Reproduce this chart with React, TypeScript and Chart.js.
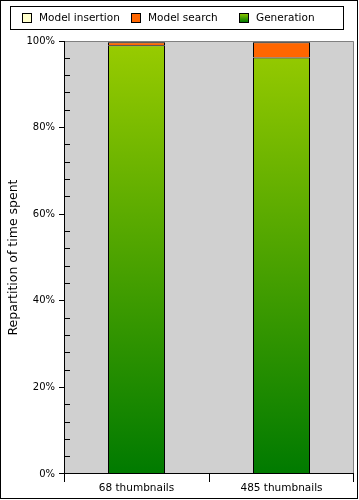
import React, { useEffect, useRef } from 'react';
import { Chart, registerables } from 'chart.js';

Chart.register(...registerables);

const categories = ['68 thumbnails', '485 thumbnails'];
const generation = [99.0, 96.2];
const modelSearch = [0.7, 3.5];
const modelInsertion = [0.3, 0.3];
const yMajorStep = 20;
const yMinorStep = 4;
const yAxisTitle = 'Repartition of time spent';

const FONT = '"DejaVu Sans", Verdana, sans-serif';

function greenGradient(ctx: CanvasRenderingContext2D, top: number, bottom: number) {
  const g = ctx.createLinearGradient(0, top, 0, bottom);
  g.addColorStop(0, '#99cc00');
  g.addColorStop(1, '#007a00');
  return g;
}

export default function App() {
  const ref = useRef<HTMLCanvasElement>(null);

  useEffect(() => {
    document.body.style.margin = '0';
    const canvas = ref.current!;

    const framePlugin = {
      id: 'frame',
      beforeDatasetsDraw(chart: any) {
        const { ctx, chartArea: a } = chart;
        ctx.save();
        ctx.fillStyle = '#d0d0d0';
        ctx.fillRect(a.left, a.top, a.right - a.left, a.bottom - a.top);
        ctx.restore();
      },
      afterDraw(chart: any) {
        const { ctx, chartArea: a, scales } = chart;
        ctx.save();
        ctx.lineWidth = 1;
        // plot frame (top and right, gray)
        ctx.strokeStyle = '#808080';
        ctx.beginPath();
        ctx.moveTo(a.left, a.top + 0.5);
        ctx.lineTo(a.right - 0.5, a.top + 0.5);
        ctx.lineTo(a.right - 0.5, a.bottom);
        ctx.stroke();
        // axes
        ctx.strokeStyle = '#000';
        ctx.beginPath();
        ctx.moveTo(a.left + 0.5, a.top);
        ctx.lineTo(a.left + 0.5, a.bottom);
        ctx.moveTo(a.left, a.bottom - 0.5);
        ctx.lineTo(a.right, a.bottom - 0.5);
        ctx.stroke();
        // y ticks
        const ys = scales.y;
        ctx.beginPath();
        ys.ticks.forEach((t: any) => {
          const p = Math.min(Math.floor(ys.getPixelForValue(t.value)) + 0.5, a.bottom - 0.5);
          if (t.value % yMajorStep === 0) {
            ctx.moveTo(a.left - 5, p);
            ctx.lineTo(a.left + 1, p);
          } else {
            ctx.moveTo(a.left, p);
            ctx.lineTo(a.left + 6, p);
          }
        });
        // x ticks at category boundaries
        const n = categories.length;
        for (let i = 0; i <= n; i++) {
          const x = Math.min(Math.floor(a.left + (i * (a.right - a.left)) / n) + 0.5, a.right - 0.5);
          ctx.moveTo(x, a.bottom);
          ctx.lineTo(x, a.bottom + 8);
        }
        ctx.stroke();

        // legend
        ctx.strokeRect(10.5, 6.5, 333, 23);
        const items = [...chart.data.datasets].reverse();
        const xs = [22, 131, 239];
        ctx.font = `10.5px ${FONT}`;
        ctx.textBaseline = 'middle';
        ctx.textAlign = 'left';
        items.forEach((ds: any, i: number) => {
          const x = xs[i];
          const y = 13;
          if (ds.label === 'Generation') {
            ctx.fillStyle = greenGradient(ctx, y, y + 9);
          } else {
            ctx.fillStyle = ds.legendColor;
          }
          ctx.fillRect(x, y, 9, 9);
          ctx.strokeStyle = '#000';
          ctx.strokeRect(x + 0.5, y + 0.5, 9, 9);
          ctx.fillStyle = '#000';
          ctx.fillText(ds.label, x + 17, y + 5);
        });

        // outer border
        ctx.strokeStyle = '#000';
        ctx.strokeRect(0.5, 0.5, 357, 498);
        ctx.restore();
      },
    };

    const greenBg = (c: any) => {
      const a = c.chart.chartArea;
      if (!a) return '#4ca300';
      return greenGradient(c.chart.ctx, a.top, a.bottom);
    };

    const common = {
      borderColor: '#000',
      borderWidth: 1,
      barPercentage: 0.393,
      categoryPercentage: 1,
      inflateAmount: 0,
    };

    const chart = new Chart(canvas, {
      type: 'bar',
      data: {
        labels: categories,
        datasets: [
          { label: 'Generation', data: generation, backgroundColor: greenBg, borderSkipped: false, ...common } as any,
          { label: 'Model search', data: modelSearch, backgroundColor: '#ff6600', legendColor: '#ff6600', borderSkipped: 'bottom', ...common } as any,
          { label: 'Model insertion', data: modelInsertion, backgroundColor: '#ffffcc', legendColor: '#ffffcc', borderSkipped: 'bottom', ...common } as any,
        ],
      },
      options: {
        responsive: false,
        animation: false,
        devicePixelRatio: 1,
        layout: { padding: { top: 41, right: 5, left: 0, bottom: 0 } },
        plugins: { legend: { display: false }, tooltip: { enabled: false } },
        scales: {
          x: {
            stacked: true,
            grid: { display: false, drawTicks: false },
            border: { display: false },
            ticks: { font: { family: FONT, size: 10.5 }, color: '#000', padding: 8 },
            afterFit: (s: any) => { s.height = 26; },
          },
          y: {
            stacked: true,
            min: 0,
            max: 100,
            grid: { display: false, drawTicks: false },
            border: { display: false },
            ticks: {
              stepSize: yMinorStep,
              autoSkip: false,
              font: { family: FONT, size: 10 },
              color: '#000',
              padding: 9,
              callback: (v: any) => (v % yMajorStep === 0 ? `${v}%` : ''),
            },
            title: {
              display: true,
              text: yAxisTitle,
              color: '#000',
              font: { family: FONT, size: 12.5, weight: 'normal' },
              padding: { top: 6, bottom: 0 },
            },
            afterFit: (s: any) => { s.width = 64; },
          },
        },
      },
      plugins: [framePlugin],
    } as any);

    return () => chart.destroy();
  }, []);

  return <canvas ref={ref} width={359} height={500} style={{ display: 'block' }} />;
}
